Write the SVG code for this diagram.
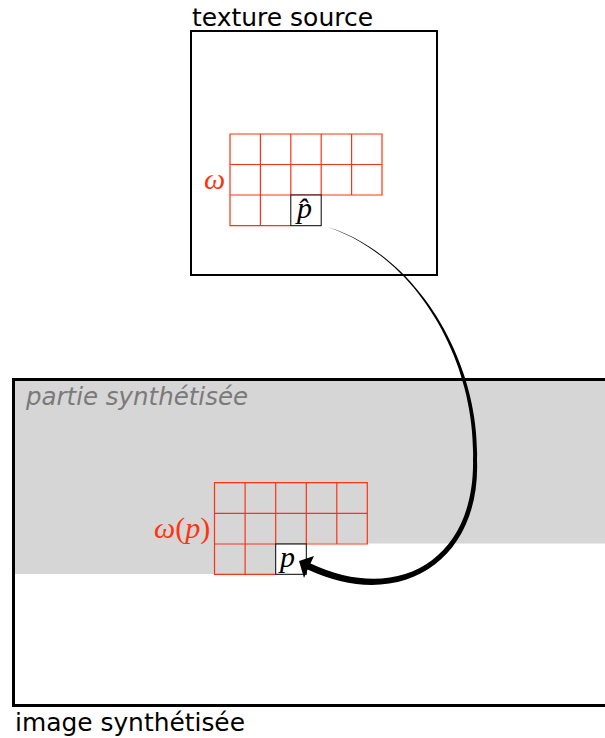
<svg xmlns="http://www.w3.org/2000/svg" width="605" height="738" viewBox="0 0 605 738">
<style>
.lbl{font-family:"DejaVu Sans","Verdana",sans-serif;font-size:24px;fill:#000}
.it{font-family:"Liberation Serif","DejaVu Serif",serif;font-style:italic;font-size:30px}
.up{font-style:normal}
.cell{fill:none;stroke:#ff3311;stroke-width:1.2}
.pcell{fill:#fff;stroke:#000;stroke-width:1}
</style>
<rect width="605" height="738" fill="#fff"/>
<g id="image-synthetisee">
<polygon points="14,380 605,380 605,543.5 275.7,543.5 275.7,574 14,574" fill="#d6d6d6"/>
<rect x="13.5" y="379.5" width="600" height="326" fill="none" stroke="#000" stroke-width="3"/>
<text class="lbl" x="15" y="731" textLength="230" lengthAdjust="spacingAndGlyphs">image synthétisée</text>
<text x="26" y="405" font-family="DejaVu Sans, Verdana, sans-serif" font-style="italic" font-size="24" fill="#7a7a7a" textLength="222" lengthAdjust="spacingAndGlyphs">partie synthétisée</text>
</g>
<g id="texture-source">
<rect x="191" y="31" width="246" height="244" fill="none" stroke="#000" stroke-width="2"/>
<text class="lbl" x="192" y="26" textLength="181" lengthAdjust="spacingAndGlyphs">texture source</text>
</g>
<g id="omega-source">
<path class="cell" d="M230,134H382V195H230Z M230,164.5H382 M260.4,134V225.7 M290.8,134V195 M321.2,134V195 M351.6,134V195 M230,195V225.7H290.8"/>
<rect class="pcell" x="290.8" y="195" width="30.4" height="30.7"/>
<text class="it" x="297" y="218" fill="#000">p̂</text>
<text class="it" x="204" y="189" fill="#ff3311">ω</text>
</g>
<g id="omega-target">
<path class="cell" d="M214.5,482.7H367.3V544H214.5Z M214.5,513.3H367.3 M245.1,482.7V574.3 M275.7,482.7V544 M306.3,482.7V544 M336.8,482.7V544 M214.5,544V574.3H275.7"/>
<rect class="pcell" x="275.7" y="544" width="30.6" height="30.3"/>
<text class="it" x="280" y="567" fill="#000">p</text>
<text class="it" x="154" y="538" fill="#ff3311">ω<tspan class="up">(</tspan>p<tspan class="up">)</tspan></text>
</g>
<g id="connectors">
<path d="M321,225 C415,250 480,360 477,460 C481,561 400,613.5 306.5,569 L309.5,563 C400,606 475,558 473,460 C476,360 415,252 321,225 Z" fill="#000"/>
<path d="M299,561 L314,556 Q309,566 304,578 Z" fill="#000"/>
</g>
</svg>
